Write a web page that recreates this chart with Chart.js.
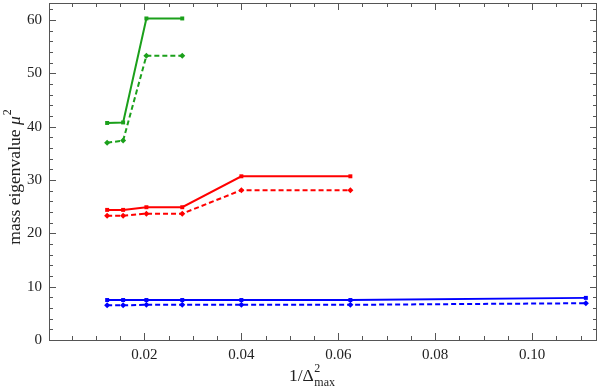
<!DOCTYPE html>
<html>
<head>
<meta charset="utf-8">
<script src="https://cdn.jsdelivr.net/npm/chart.js@4/dist/chart.umd.min.js"></script>
<style>
  html, body { margin: 0; padding: 0; background: #fff; }
  #wrap { width: 598px; height: 392px; }
</style>
</head>
<body>
<div id="wrap"><canvas id="myChart"></canvas></div>
<script>
// 1/Delta_max^2 sample points
const xValues = [0.0123, 0.0156, 0.0204, 0.0278, 0.0400, 0.0625, 0.1111];

const greenSolid = [40.7, 40.8, 60.3, 60.3];
const greenDashed = [37.0, 37.4, 53.3, 53.3];
const redSolid = [24.4, 24.4, 24.9, 24.9, 30.7, 30.7];
const redDashed = [23.3, 23.3, 23.7, 23.7, 28.1, 28.1];
const blueSolid = [7.5, 7.5, 7.5, 7.5, 7.5, 7.5, 7.9];
const blueDashed = [6.5, 6.5, 6.6, 6.6, 6.6, 6.6, 6.9];

const xTicks = [0.02, 0.04, 0.06, 0.08, 0.10];
const yTicks = [0, 10, 20, 30, 40, 50, 60];

const GREEN = '#1ba01b';
const RED = '#ff0000';
const BLUE = '#0000ff';
const SERIF = '"Liberation Serif", "Times New Roman", serif';

function pts(ys) {
    return ys.map((y, i) => ({ x: xValues[i], y: y }));
}

function series(ys, color, dashed) {
    return {
        data: pts(ys),
        borderColor: color,
        backgroundColor: color,
        borderWidth: 2,
        borderDash: dashed ? [5, 3] : [],
        pointStyle: dashed ? 'rectRot' : 'rect',
        pointRadius: dashed ? 3 : 2.8,
        pointBorderWidth: 0,
        tension: 0,
        fill: false
    };
}

// inward ticks on all four sides, plus frame and axis titles
const frameTicks = {
    id: 'frameTicks',
    afterDraw(chart) {
        const { ctx, chartArea: a, scales: { x, y } } = chart;
        ctx.save();
        ctx.strokeStyle = '#555';
        ctx.lineWidth = 1;
        ctx.strokeRect(a.left + 0.5, a.top + 0.5, a.right - a.left - 1, a.bottom - a.top);

        ctx.beginPath();
        for (let v = 0.005; v < x.max; v += 0.005) {
            const px = Math.round(x.getPixelForValue(v)) + 0.5;
            if (px <= a.left + 1 || px >= a.right - 1) continue;
            const major = Math.abs(v / 0.02 - Math.round(v / 0.02)) < 1e-6;
            const len = major ? 7 : 4;
            ctx.moveTo(px, a.bottom); ctx.lineTo(px, a.bottom - len);
            ctx.moveTo(px, a.top); ctx.lineTo(px, a.top + len);
        }
        for (let v = 2; v < y.max; v += 2) {
            const py = Math.round(y.getPixelForValue(v)) + 0.5;
            const len = v % 10 === 0 ? 7 : 4;
            ctx.moveTo(a.left, py); ctx.lineTo(a.left + len, py);
            ctx.moveTo(a.right, py); ctx.lineTo(a.right - len, py);
        }
        ctx.stroke();

        // x title: 1/Δ²max
        ctx.fillStyle = '#222';
        ctx.textBaseline = 'alphabetic';
        ctx.font = '17.5px ' + SERIF;
        let tx = 289, ty = 381;
        ctx.textAlign = 'left';
        ctx.fillText('1/Δ', tx, ty);
        tx += ctx.measureText('1/Δ').width + 0.5;
        ctx.font = '12px ' + SERIF;
        ctx.fillText('2', tx, ty - 9);
        ctx.fillText('max', tx, ty + 5);

        // y title: mass eigenvalue μ²
        ctx.save();
        ctx.translate(20, 177);
        ctx.rotate(-Math.PI / 2);
        ctx.font = '17.5px ' + SERIF;
        const w1 = ctx.measureText('mass eigenvalue ').width;
        ctx.font = 'italic 17.5px ' + SERIF;
        const w2 = ctx.measureText('μ').width;
        ctx.font = '12px ' + SERIF;
        const w3 = ctx.measureText('2').width;
        let sx = -(w1 + w2 + w3 + 1) / 2;
        ctx.font = '17.5px ' + SERIF;
        ctx.fillText('mass eigenvalue ', sx, 0);
        sx += w1;
        ctx.font = 'italic 17.5px ' + SERIF;
        ctx.fillText('μ', sx, 0);
        sx += w2 + 1;
        ctx.font = '12px ' + SERIF;
        ctx.fillText('2', sx, -9);
        ctx.restore();

        ctx.restore();
    }
};

const ctx = document.getElementById('myChart').getContext('2d');
new Chart(ctx, {
    type: 'line',
    data: {
        datasets: [
            series(greenSolid, GREEN, false),
            series(greenDashed, GREEN, true),
            series(redSolid, RED, false),
            series(redDashed, RED, true),
            series(blueSolid, BLUE, false),
            series(blueDashed, BLUE, true)
        ]
    },
    options: {
        responsive: true,
        maintainAspectRatio: false,
        animation: false,
        layout: { autoPadding: false, padding: { left: 0, right: 1, top: 3, bottom: 0 } },
        plugins: {
            legend: { display: false },
            tooltip: { enabled: false }
        },
        scales: {
            x: {
                type: 'linear',
                min: 0.0003,
                max: 0.1134,
                grid: { display: false, drawTicks: false },
                border: { display: false },
                afterBuildTicks: s => { s.ticks = xTicks.map(v => ({ value: v })); },
                afterFit: s => { s.height = 52; s.paddingLeft = 0; s.paddingRight = 0; },
                ticks: {
                    padding: 6,
                    color: '#222',
                    font: { family: SERIF, size: 15 },
                    callback: v => v.toFixed(2)
                }
            },
            y: {
                min: 0,
                max: 63.2,
                grid: { display: false, drawTicks: false },
                border: { display: false },
                afterBuildTicks: s => { s.ticks = yTicks.map(v => ({ value: v })); },
                afterFit: s => { s.width = 49; s.paddingTop = 0; s.paddingBottom = 0; },
                ticks: {
                    padding: 7,
                    color: '#222',
                    font: { family: SERIF, size: 15 },
                    callback: v => String(v)
                }
            }
        }
    },
    plugins: [frameTicks]
});
</script>
</body>
</html>
